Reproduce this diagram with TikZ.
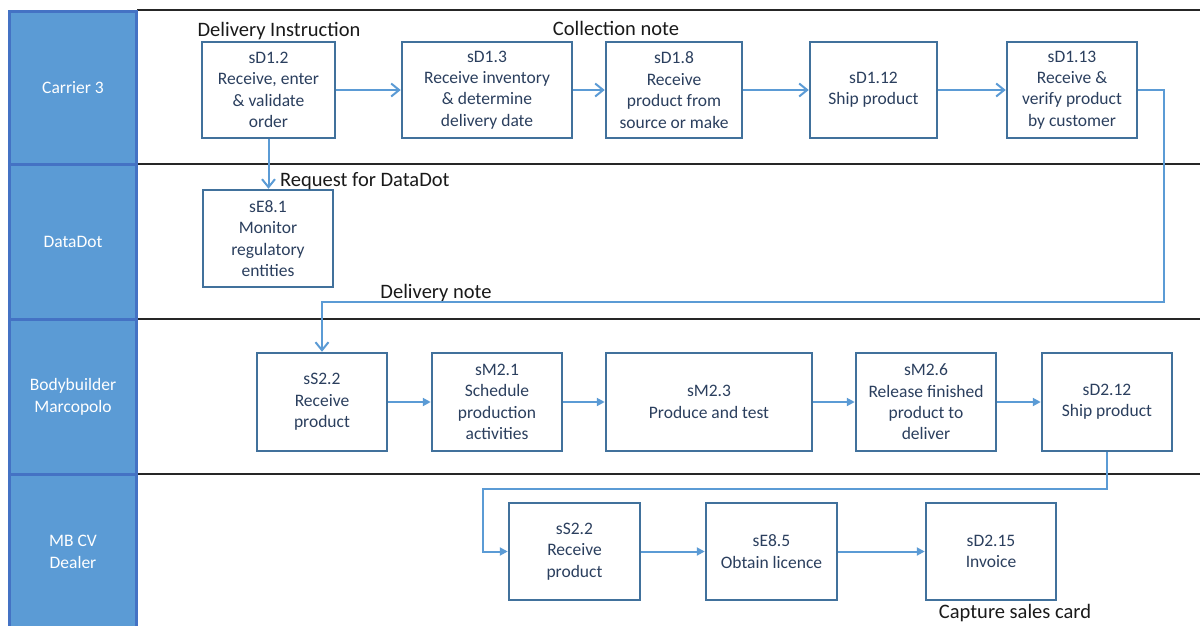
\documentclass[tikz,border=0pt]{standalone}
\usepackage{fontspec}
\setmainfont{Carlito}
\usetikzlibrary{arrows.meta}
\definecolor{lanefill}{HTML}{5B9BD5}
\definecolor{laneedge}{HTML}{4472C4}
\definecolor{boxedge}{HTML}{41719C}
\definecolor{boxtext}{HTML}{2B3F5E}
\definecolor{flow}{HTML}{5B9BD5}
\definecolor{rule}{HTML}{262626}
\begin{document}
\begin{tikzpicture}[x=1pt,y=-1pt,
  lanebox/.style={fill=lanefill,draw=laneedge,line width=3pt},
  lanetext/.style={text=white,align=center,font=\fontsize{17.5}{21.4}\selectfont},
  proc/.style={draw=boxedge,line width=2.5pt,fill=white,text=boxtext,align=center,
    inner sep=0pt,font=\fontsize{17.5}{21.4}\selectfont,
    execute at begin node={\vspace*{4pt}}},
  note/.style={text=black!90,font=\fontsize{20.5}{24}\selectfont,inner sep=0pt},
  flowline/.style={draw=flow,line width=2pt},
  barb/.style={flowline,-{Straight Barb[length=8pt,width=13pt,line width=2pt]}},
  tri/.style={flowline,-{Triangle[length=8pt,width=8pt]}},
  lanerule/.style={draw=rule,line width=2pt}]
\useasboundingbox (0,0) rectangle (1200,625);

% swimlane rules
\draw[lanerule,line width=1.5pt] (137,10) -- (1200,10);
\draw[lanerule] (137,164) -- (1200,164);
\draw[lanerule] (137,319) -- (1200,319);
\draw[lanerule] (137,474) -- (1200,474);

% swimlane headers
\draw[lanebox] (9.5,11.5) rectangle (136.5,164);
\draw[lanebox] (9.5,164) rectangle (136.5,319);
\draw[lanebox] (9.5,319) rectangle (136.5,474);
\draw[lanebox] (9.5,474) rectangle (136.5,640);
\node[lanetext] (l1) at (73,88) {Carrier 3};
\node[lanetext] (l2) at (73,242) {DataDot};
\node[lanetext] (l3) at (73,397) {Bodybuilder\\Marcopolo};
\node[lanetext] (l4) at (73,552) {MB CV\\Dealer};

% Carrier 3
\node[proc,minimum width=133pt,minimum height=96pt] (d12) at (268.5,90) {sD1.2\\Receive, enter\\\& validate\\order};
\node[proc,minimum width=170pt,minimum height=96pt] (d13) at (487,90) {sD1.3\\Receive inventory\\\& determine\\delivery date};
\node[proc,minimum width=136pt,minimum height=96pt] (d18) at (674,90) {sD1.8\\Receive\\product from\\source or make};
\node[proc,minimum width=127pt,minimum height=96pt] (d112) at (873.5,90) {sD1.12\\Ship product};
\node[proc,minimum width=130pt,minimum height=96pt] (d113) at (1072,90) {sD1.13\\Receive \&\\verify product\\by customer};

% DataDot
\node[proc,minimum width=130pt,minimum height=97pt] (e81) at (268,238.5) {sE8.1\\Monitor\\regulatory\\entities};

% Bodybuilder Marcopolo
\node[proc,minimum width=130pt,minimum height=98pt] (s22) at (322,402) {sS2.2\\Receive\\product};
\node[proc,minimum width=130pt,minimum height=98pt] (m21) at (497,402) {sM2.1\\Schedule\\production\\activities};
\node[proc,minimum width=206pt,minimum height=98pt] (m23) at (709,402) {sM2.3\\Produce and test};
\node[proc,minimum width=140pt,minimum height=98pt] (m26) at (926,402) {sM2.6\\Release finished\\product to\\deliver};
\node[proc,minimum width=130pt,minimum height=98pt] (d212) at (1107,402) {sD2.12\\Ship product};

% MB CV Dealer
\node[proc,minimum width=131pt,minimum height=97pt] (s22b) at (574.5,551.5) {sS2.2\\Receive\\product};
\node[proc,minimum width=131pt,minimum height=97pt] (e85) at (771.5,551.5) {sE8.5\\Obtain licence};
\node[proc,minimum width=130pt,minimum height=97pt] (d215) at (991,551.5) {sD2.15\\Invoice};

% document labels
\node[note] (n1) at (279,31) {Delivery Instruction};
\node[note] (n2) at (616,28) {Collection note};
\node[note,anchor=west] (n3) at (280,181) {Request for DataDot};
\node[note] (n4) at (436,293) {Delivery note};
\node[note] (n5) at (1015,613) {Capture sales card};

% routing corners
\coordinate (r1) at (1164,302);
\coordinate (c1) at (483,489);

% flows
\draw[barb] (d12.east) -- (d13.west);
\draw[barb] (d13.east) -- (d18.west);
\draw[barb] (d18.east) -- (d112.west);
\draw[barb] (d112.east) -- (d113.west);
\draw[barb] (d12.south) -- (d12.south |- e81.north);
\draw[barb] (d113.east) -| (r1) -| (s22.north);

\draw[tri] (s22.east) -- (m21.west);
\draw[tri] (m21.east) -- (m23.west);
\draw[tri] (m23.east) -- (m26.west);
\draw[tri] (m26.east) -- (d212.west);
\draw[tri] (d212.south) |- (c1) |- (s22b.west);
\draw[tri] (s22b.east) -- (e85.west);
\draw[tri] (e85.east) -- (d215.west);
\end{tikzpicture}
\end{document}
